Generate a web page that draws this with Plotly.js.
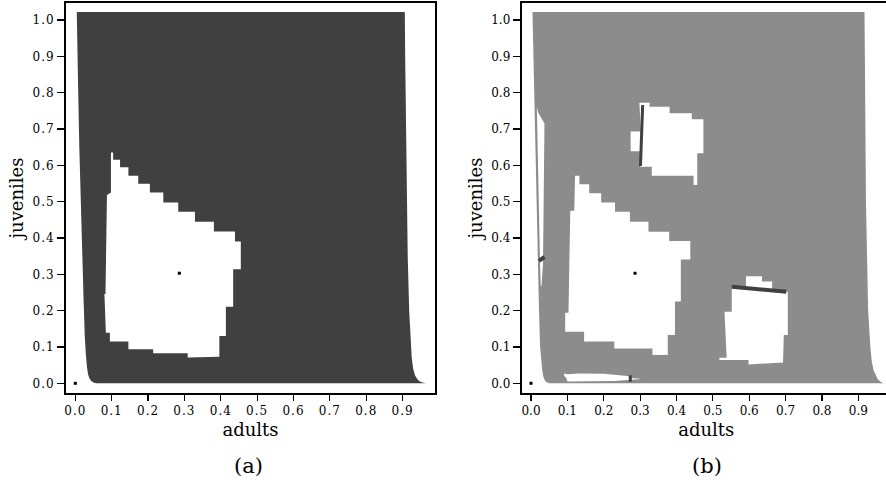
<!DOCTYPE html>
<html><head><meta charset="utf-8">
<script src="https://cdn.plot.ly/plotly-3.0.1.min.js"></script>
<style>
html,body{margin:0;padding:0;overflow:hidden;width:886px;height:482px;background:#fff}
#chart{width:900px;height:482px}
.xtick text,.ytick text{letter-spacing:1px}
</style></head><body><div id="chart"></div><script>
// ---- panel (a): reachable region outline ----
const regionAX = [0.004,0.906,0.907,0.909,0.911,0.914,0.918,0.922,0.925,0.929,0.934,0.940,0.947,0.955,0.964,0.058,0.050,0.044,0.039,0.035,0.032,0.029,0.026,0.023,0.019,0.015,0.011,0.008,0.006,0.004];
const regionAY = [1.022,1.022,0.90,0.70,0.50,0.35,0.20,0.10,0.07,0.04,0.022,0.012,0.005,0.002,0.0,0.0,0.002,0.006,0.013,0.025,0.045,0.08,0.13,0.22,0.35,0.50,0.65,0.80,0.90,1.022];
// hole in panel (a)
const holeA1X = [0.098,0.104,0.104,0.123,0.123,0.146,0.146,0.173,0.173,0.205,0.205,0.242,0.242,0.283,0.283,0.329,0.329,0.381,0.381,0.439,0.439,0.455,0.455,0.434,0.434,0.414,0.414,0.396,0.396,0.309,0.309,0.214,0.214,0.146,0.146,0.095,0.095,0.084,0.080,0.083,0.087,0.098];
const holeA1Y = [0.635,0.635,0.615,0.615,0.595,0.595,0.571,0.571,0.549,0.549,0.525,0.525,0.498,0.498,0.472,0.472,0.445,0.445,0.418,0.418,0.390,0.390,0.314,0.314,0.211,0.211,0.130,0.130,0.073,0.071,0.083,0.083,0.094,0.094,0.115,0.115,0.139,0.139,0.246,0.246,0.518,0.525];
// black marks (both panels)
const dotsX = [0.0, 0.286];
const dotsY = [0.0, 0.303];

// ---- panel (b) ----
const regionBX = [0.004,0.917,0.918,0.919,0.921,0.924,0.927,0.933,0.937,0.942,0.947,0.953,0.960,0.969,0.050,0.043,0.038,0.034,0.031,0.028,0.025,0.022,0.019,0.016,0.012,0.009,0.006,0.004];
const regionBY = [1.022,1.022,0.90,0.70,0.50,0.35,0.20,0.10,0.06,0.035,0.022,0.012,0.005,0.0,0.0,0.003,0.008,0.018,0.035,0.06,0.10,0.20,0.35,0.50,0.65,0.80,0.90,1.022];
const holeB1X = [0.298,0.326,0.326,0.381,0.381,0.442,0.442,0.474,0.474,0.457,0.457,0.447,0.447,0.332,0.332,0.300,0.301,0.274,0.274,0.302];
const holeB1Y = [0.772,0.772,0.761,0.761,0.743,0.743,0.727,0.727,0.633,0.633,0.546,0.546,0.571,0.571,0.596,0.596,0.639,0.639,0.693,0.693];
const holeB2X = [0.121,0.133,0.133,0.160,0.160,0.193,0.193,0.231,0.231,0.272,0.272,0.323,0.323,0.380,0.380,0.438,0.438,0.412,0.412,0.396,0.396,0.376,0.376,0.334,0.334,0.229,0.229,0.146,0.146,0.094,0.094,0.103,0.108,0.119];
const holeB2Y = [0.571,0.571,0.548,0.548,0.523,0.523,0.498,0.498,0.472,0.472,0.445,0.445,0.417,0.417,0.392,0.392,0.341,0.341,0.225,0.225,0.133,0.133,0.078,0.078,0.096,0.096,0.115,0.115,0.142,0.142,0.194,0.194,0.475,0.475];
const holeB3X = [0.552,0.591,0.591,0.635,0.635,0.663,0.663,0.706,0.706,0.695,0.693,0.598,0.598,0.518,0.518,0.538,0.532,0.552];
const holeB3Y = [0.266,0.262,0.295,0.295,0.280,0.280,0.258,0.252,0.133,0.133,0.057,0.052,0.064,0.064,0.070,0.070,0.197,0.197];
const holeB4X = [0.091,0.100,0.130,0.200,0.265,0.280,0.305,0.280,0.230,0.100,0.097,0.091];
const holeB4Y = [0.027,0.025,0.027,0.026,0.020,0.014,0.012,0.010,0.006,0.005,0.015,0.020];
const holeB5X = [0.016,0.020,0.037,0.036,0.035,0.033,0.029,0.027,0.025,0.022,0.019,0.016];
const holeB5Y = [0.760,0.745,0.715,0.55,0.40,0.33,0.27,0.265,0.32,0.45,0.60,0.760];
// dark segments in panel (b)
const segB1X = [0.307,0.301]; const segB1Y = [0.766,0.598];
const segB2X = [0.552,0.702]; const segB2Y = [0.266,0.252];
const segB3X = [0.022,0.037]; const segB3Y = [0.337,0.348];
const segB4X = [0.273,0.273]; const segB4Y = [0.004,0.022];

const xTicks = [0,0.1,0.2,0.3,0.4,0.5,0.6,0.7,0.8,0.9];
const xTickText = ['0.0','0.1','0.2','0.3','0.4','0.5','0.6','0.7','0.8','0.9'];
const yTicks = [0,0.1,0.2,0.3,0.4,0.5,0.6,0.7,0.8,0.9,1.0];
const yTickText = ['0.0','0.1','0.2','0.3','0.4','0.5','0.6','0.7','0.8','0.9','1.0'];

const DARK = '#404040', MID = '#8c8c8c';
function poly(x, y, color, xa, ya) {
  return {type:'scatter', mode:'lines', x:x, y:y, fill:'toself', fillcolor:color,
          line:{width:0, color:color}, xaxis:xa, yaxis:ya, hoverinfo:'skip', showlegend:false};
}
function seg(x, y, w, xa, ya) {
  return {type:'scatter', mode:'lines', x:x, y:y, line:{width:w, color:DARK},
          xaxis:xa, yaxis:ya, hoverinfo:'skip', showlegend:false};
}
function dots(xa, ya) {
  return {type:'scatter', mode:'markers', x:dotsX, y:dotsY,
          marker:{symbol:'square', size:3, color:'#000'}, xaxis:xa, yaxis:ya, showlegend:false};
}
const data = [
  poly(regionAX, regionAY, DARK, 'x', 'y'),
  poly(holeA1X, holeA1Y, '#fff', 'x', 'y'),
  dots('x','y'),
  poly(regionBX, regionBY, MID, 'x2', 'y2'),
  poly(holeB1X, holeB1Y, '#fff', 'x2', 'y2'),
  poly(holeB2X, holeB2Y, '#fff', 'x2', 'y2'),
  poly(holeB3X, holeB3Y, '#fff', 'x2', 'y2'),
  poly(holeB4X, holeB4Y, '#fff', 'x2', 'y2'),
  poly(holeB5X, holeB5Y, '#fff', 'x2', 'y2'),
  seg(segB1X, segB1Y, 3, 'x2', 'y2'),
  seg(segB2X, segB2Y, 4, 'x2', 'y2'),
  seg(segB3X, segB3Y, 4, 'x2', 'y2'),
  seg(segB4X, segB4Y, 3, 'x2', 'y2'),
  dots('x2','y2')
];

const FONT = 'DejaVu Serif, Liberation Serif, serif';
const W = 900, H = 482;
function xax(left, right) {
  return {domain:[left/W, right/W], range:[-0.0256, 0.989], tickmode:'array', tickvals:xTicks, ticktext:xTickText,
    ticks:'outside', ticklen:6, tickwidth:1.2, tickcolor:'#000', showline:true, mirror:true, linecolor:'#000', linewidth:2,
    showgrid:false, zeroline:false, tickfont:{family:FONT, size:12, color:'#000'},
    title:{text:'adults', font:{family:FONT, size:18, color:'#000'}, standoff:6}};
}
function yax(anchor) {
  return {domain:[1-393/H, 1-3/H], range:[-0.0267, 1.0468], tickmode:'array', tickvals:yTicks, ticktext:yTickText,
    ticks:'outside', ticklen:7, tickwidth:1.2, tickcolor:'#000', showline:true, mirror:true, linecolor:'#000', linewidth:2,
    showgrid:false, zeroline:false, tickfont:{family:FONT, size:12, color:'#000'}, anchor:anchor,
    title:{text:'juveniles', font:{family:FONT, size:18, color:'#000'}, standoff:4}};
}
const xa2 = xax(521.7, 890.7); xa2.anchor = 'y2';
const xa1 = xax(66, 435); xa1.anchor = 'y';
const layout = {
  width:W, height:H, margin:{l:0, r:0, t:0, b:0}, paper_bgcolor:'#fff', plot_bgcolor:'#fff',
  showlegend:false,
  xaxis:xa1, yaxis:yax('x'), xaxis2:xa2, yaxis2:yax('x2'),
  annotations:[
    {text:'(a)', xref:'x', yref:'paper', x:0.477, y:1-466/H, showarrow:false, xanchor:'center', yanchor:'middle',
     font:{family:FONT, size:21, color:'#000'}},
    {text:'(b)', xref:'x2', yref:'paper', x:0.483, y:1-466/H, showarrow:false, xanchor:'center', yanchor:'middle',
     font:{family:FONT, size:21, color:'#000'}}
  ]
};
Plotly.newPlot('chart', data, layout, {staticPlot:true, displayModeBar:false});
</script></body></html>
